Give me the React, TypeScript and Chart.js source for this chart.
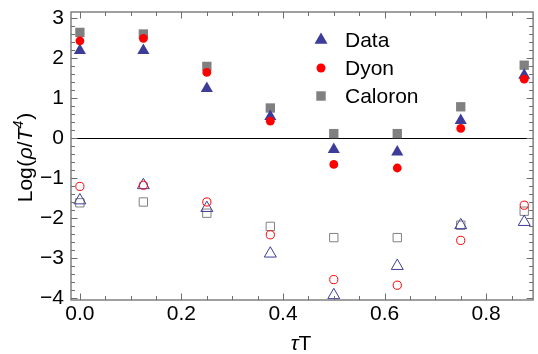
import React, { useEffect, useRef } from "react";
import { Chart, registerables } from "chart.js";
Chart.register(...registerables);

const tauT = [0, 0.125, 0.25, 0.375, 0.5, 0.625, 0.75, 0.875];
const dataHigh = [2.19, 2.19, 1.24, 0.54, -0.29, -0.35, 0.44, 1.57];
const dyonHigh = [2.43, 2.49, 1.64, 0.42, -0.66, -0.75, 0.24, 1.47];
const caloronHigh = [2.64, 2.6, 1.79, 0.75, 0.11, 0.11, 0.78, 1.82];
const dataLow = [-1.56, -1.18, -1.75, -2.89, -3.93, -3.2, -2.18, -2.1];
const dyonLow = [-1.21, -1.18, -1.6, -2.42, -3.54, -3.68, -2.56, -1.68];
const caloronLow = [-1.62, -1.6, -1.88, -2.21, -2.49, -2.49, -2.18, -1.83];
const xTicks = [0, 0.2, 0.4, 0.6, 0.8];
const yTicks = [-4, -3, -2, -1, 0, 1, 2, 3];
const legendLabels = ["Data", "Dyon", "Caloron"];

const BLUE = "rgb(61,61,153)";
const RED = "rgb(255,0,0)";
const GRAY = "rgb(128,128,128)";
const FRAME = "rgb(110,110,110)";
const FONT = '"Liberation Sans", Arial, sans-serif';
const FS = 21;

const pts = (ys: number[]) => tauT.map((x, i) => ({ x, y: ys[i] }));

function drawRich(
  ctx: CanvasRenderingContext2D,
  parts: { t: string; f: string; dy?: number; gap?: number }[],
  cx: number,
  baseline: number
) {
  let total = 0;
  const widths = parts.map((p) => {
    ctx.font = p.f;
    const w = ctx.measureText(p.t).width + (p.gap || 0);
    total += w;
    return w;
  });
  let x = cx - total / 2;
  ctx.textAlign = "left";
  ctx.textBaseline = "alphabetic";
  parts.forEach((p, i) => {
    ctx.font = p.f;
    ctx.fillText(p.t, x + (p.gap || 0) / 2, baseline + (p.dy || 0));
    x += widths[i];
  });
}

const decor = {
  id: "decor",
  beforeDatasetsDraw(chart: any) {
    const { ctx, chartArea: a, scales } = chart;
    const y0 = scales.y.getPixelForValue(0);
    ctx.save();
    ctx.strokeStyle = "#000";
    ctx.lineWidth = 1;
    ctx.beginPath();
    ctx.moveTo(a.left, Math.round(y0) + 0.5);
    ctx.lineTo(a.right, Math.round(y0) + 0.5);
    ctx.stroke();
    ctx.restore();
  },
  afterDraw(chart: any) {
    const { ctx, chartArea: a, scales } = chart;
    const xs = scales.x;
    const ys = scales.y;
    ctx.save();
    ctx.strokeStyle = FRAME;
    ctx.lineWidth = 1.3;
    ctx.strokeRect(a.left, a.top, a.right - a.left, a.bottom - a.top);
    ctx.lineWidth = 1;
    ctx.beginPath();
    for (let k = 0; k <= 17; k++) {
      const v = k * 0.05;
      const major = k % 4 === 0;
      const L = major ? 6.5 : 4;
      const px = Math.round(xs.getPixelForValue(v)) + 0.5;
      ctx.moveTo(px, a.bottom);
      ctx.lineTo(px, a.bottom - L);
      ctx.moveTo(px, a.top);
      ctx.lineTo(px, a.top + L);
    }
    for (let k = -20; k <= 15; k++) {
      const v = k * 0.2;
      const major = k % 5 === 0;
      const L = major ? 6.5 : 4;
      const py = Math.round(ys.getPixelForValue(v)) + 0.5;
      ctx.moveTo(a.left, py);
      ctx.lineTo(a.left + L, py);
      ctx.moveTo(a.right, py);
      ctx.lineTo(a.right - L, py);
    }
    ctx.stroke();

    // legend
    const lx = 321;
    const rows = [40, 68, 96];
    ctx.fillStyle = BLUE;
    ctx.beginPath();
    ctx.moveTo(lx, rows[0] - 7.5);
    ctx.lineTo(lx + 6.5, rows[0] + 3.8);
    ctx.lineTo(lx - 6.5, rows[0] + 3.8);
    ctx.closePath();
    ctx.fill();
    ctx.fillStyle = RED;
    ctx.beginPath();
    ctx.arc(lx, rows[1], 4.5, 0, Math.PI * 2);
    ctx.fill();
    ctx.fillStyle = GRAY;
    ctx.fillRect(lx - 4.7, rows[2] - 4.7, 9.4, 9.4);
    ctx.fillStyle = "#000";
    ctx.font = `${FS}px ${FONT}`;
    ctx.textAlign = "left";
    ctx.textBaseline = "middle";
    legendLabels.forEach((t, i) => ctx.fillText(t, 345, rows[i] + 1));

    const reg = `${FS}px ${FONT}`;
    const ita = `italic ${FS}px ${FONT}`;
    drawRich(ctx, [{ t: "τ", f: ita }, { t: "T", f: reg }], (a.left + a.right) / 2 - 1, 350);

    ctx.save();
    ctx.translate(32, 157);
    ctx.rotate(-Math.PI / 2);
    drawRich(
      ctx,
      [
        { t: "Log", f: reg },
        { t: "(", f: reg, gap: 1 },
        { t: "ρ", f: ita },
        { t: "/", f: reg },
        { t: "T", f: ita },
        { t: "4", f: `italic ${Math.round(FS * 0.68)}px ${FONT}`, dy: -9 },
        { t: ")", f: reg, gap: 2 },
      ],
      0,
      0
    );
    ctx.restore();
    ctx.restore();
  },
};

export default function App() {
  const ref = useRef<HTMLCanvasElement>(null);
  useEffect(() => {
    if (!ref.current) return;
    const filled = (label: string, ys: number[], style: any, r: number, color: string) => ({
      label,
      data: pts(ys),
      pointStyle: style,
      pointRadius: r,
      backgroundColor: color,
      borderColor: color,
      borderWidth: 0,
      showLine: false,
    });
    const open = (label: string, ys: number[], style: any, r: number, color: string) => ({
      label,
      data: pts(ys),
      pointStyle: style,
      pointRadius: r,
      backgroundColor: "rgba(0,0,0,0)",
      borderColor: color,
      borderWidth: 1,
      showLine: false,
    });
    const chart = new Chart(ref.current, {
      type: "scatter",
      data: {
        datasets: [
          filled("Dyon", dyonHigh, "circle", 4.4, RED),
          filled("Data", dataHigh, "triangle", 7, BLUE),
          filled("Caloron", caloronHigh, "rect", 6.6, GRAY),
          open("Dyon low", dyonLow, "circle", 4.1, RED),
          open("Data low", dataLow, "triangle", 6.9, BLUE),
          open("Caloron low", caloronLow, "rect", 5.9, GRAY),
        ],
      },
      options: {
        animation: false,
        responsive: false,
        events: [],
        layout: { padding: { top: 12, right: 1, left: 0, bottom: 0 } },
        plugins: { legend: { display: false }, tooltip: { enabled: false } },
        scales: {
          x: {
            type: "linear",
            min: -0.0175,
            max: 0.8925,
            grid: { display: false, drawTicks: false, tickLength: 0 },
            border: { display: false },
            afterBuildTicks: (s: any) => {
              s.ticks = xTicks.map((v) => ({ value: v }));
            },
            afterFit: (s: any) => {
              s.height = 54;
              s.paddingLeft = 0;
              s.paddingRight = 0;
            },
            ticks: {
              padding: 2,
              color: "#000",
              font: { family: FONT, size: FS },
              maxRotation: 0,
              autoSkip: false,
              callback: (v: any) => Number(v).toFixed(1),
            },
          },
          y: {
            type: "linear",
            min: -4.05,
            max: 3.15,
            grid: { display: false, drawTicks: false, tickLength: 0 },
            border: { display: false },
            afterBuildTicks: (s: any) => {
              s.ticks = yTicks.map((v) => ({ value: v }));
            },
            afterFit: (s: any) => {
              s.width = 71;
              s.paddingTop = 0;
              s.paddingBottom = 0;
            },
            ticks: {
              padding: 7,
              color: "#000",
              font: { family: FONT, size: FS },
              autoSkip: false,
              callback: (v: any) => (Number(v) < 0 ? "\u2212" + Math.abs(Number(v)) : String(v)),
            },
          },
        },
      },
      plugins: [decor],
    });
    return () => chart.destroy();
  }, []);
  return (
    <div
      style={{
        position: "fixed",
        left: 0,
        top: 0,
        width: 538,
        height: 354,
        overflow: "hidden",
        background: "#fff",
      }}
    >
      <canvas ref={ref} width={541} height={354} style={{ display: "block" }} />
    </div>
  );
}
